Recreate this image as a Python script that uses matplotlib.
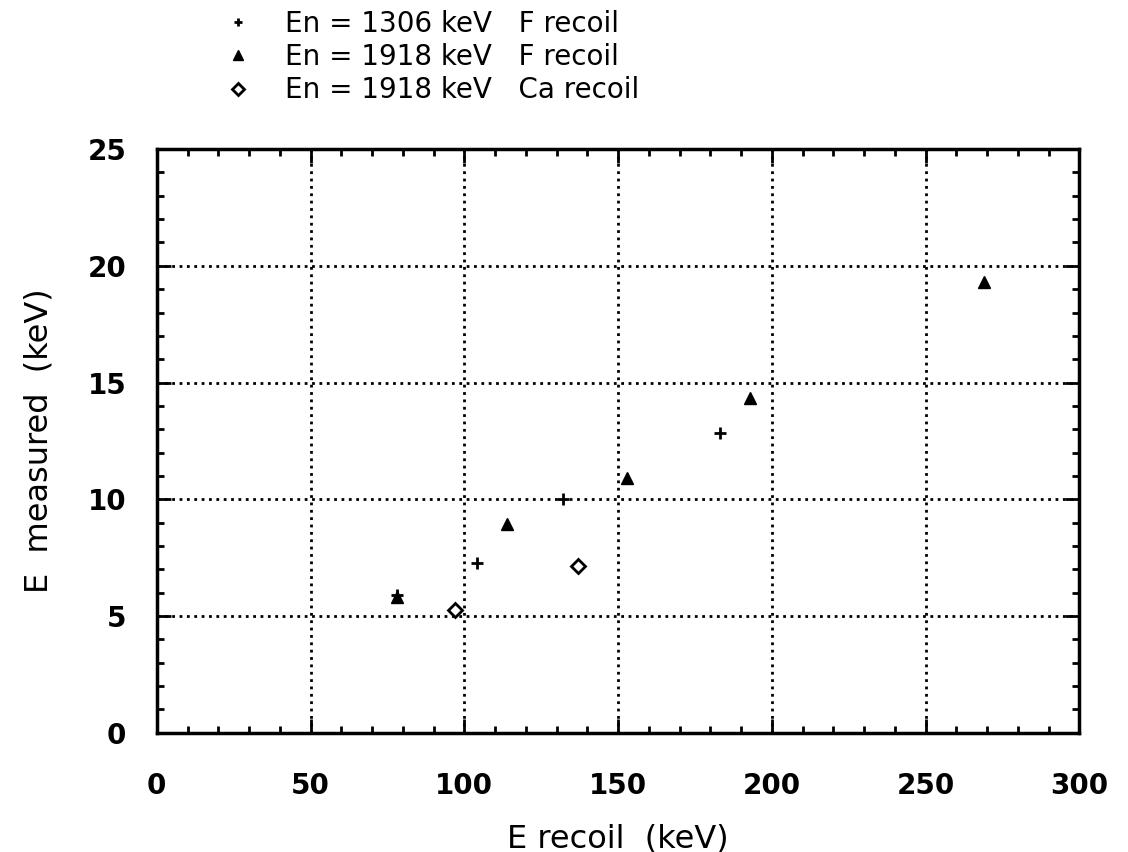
import numpy as np
import matplotlib.pyplot as plt
from matplotlib.ticker import MultipleLocator

# data
f1306_x = [78, 104, 132, 183]
f1306_y = [5.9, 7.25, 10.0, 12.85]
f1918_x = [78, 114, 153, 193, 269]
f1918_y = [5.8, 8.95, 10.9, 14.35, 19.3]
ca1918_x = [97, 137]
ca1918_y = [5.25, 7.15]
labels = ['En = 1306 keV   F recoil',
          'En = 1918 keV   F recoil',
          'En = 1918 keV   Ca recoil']

fig = plt.figure(figsize=(11.28, 8.52), dpi=100)
ax = fig.add_axes([0.139, 0.140, 0.818, 0.685])

h1, = ax.plot(f1306_x, f1306_y, ls='none', marker='+', color='black',
              markersize=8, markeredgewidth=2)
h2, = ax.plot(f1918_x, f1918_y, ls='none', marker='^', color='black',
              markersize=8.5)
h3, = ax.plot(ca1918_x, ca1918_y, ls='none', marker='D', color='black',
              markerfacecolor='white', markersize=7.5, markeredgewidth=2)

ax.set_xlim(0, 300)
ax.set_ylim(0, 25)
ax.xaxis.set_major_locator(MultipleLocator(50))
ax.xaxis.set_minor_locator(MultipleLocator(10))
ax.yaxis.set_major_locator(MultipleLocator(5))
ax.yaxis.set_minor_locator(MultipleLocator(1))
ax.tick_params(which='both', direction='in', top=True, right=True,
               labelsize=20, width=2)
ax.tick_params(axis='x', pad=28)
ax.tick_params(axis='y', pad=22)
ax.tick_params(which='major', length=10)
ax.tick_params(which='minor', length=5)
for lab in ax.get_xticklabels() + ax.get_yticklabels():
    lab.set_fontweight('bold')
for s in ax.spines.values():
    s.set_linewidth(2.5)
ax.grid(True, which='major', linestyle=':', linewidth=2, color='black')

ax.set_xlabel('E recoil  (keV)', fontsize=23, labelpad=17)
ax.set_ylabel('E  measured  (keV)', fontsize=23, labelpad=24)

fig.legend([h1, h2, h3], labels, loc='upper left',
           bbox_to_anchor=(0.1862, 1.0047), frameon=False, fontsize=20,
           borderpad=0, handletextpad=1.19, labelspacing=0.19,
           handlelength=1.0, markerscale=0.8)

fig.savefig('out.png', dpi=100)
